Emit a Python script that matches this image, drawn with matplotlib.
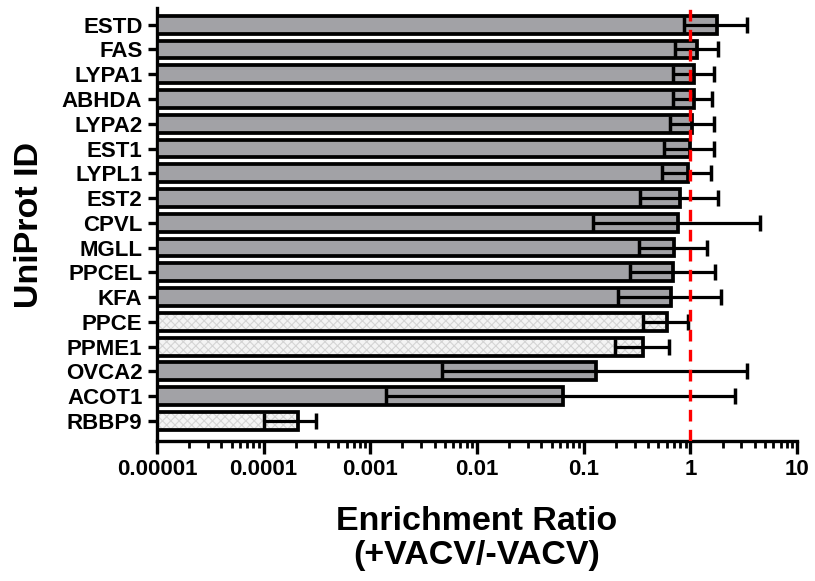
import matplotlib
matplotlib.use('Agg')
import matplotlib.pyplot as plt
import numpy as np
from matplotlib.ticker import LogLocator, FixedLocator, NullFormatter

proteins = ['ESTD', 'FAS', 'LYPA1', 'ABHDA', 'LYPA2', 'EST1', 'LYPL1', 'EST2', 'CPVL',
            'MGLL', 'PPCEL', 'KFA', 'PPCE', 'PPME1', 'OVCA2', 'ACOT1', 'RBBP9']
ratio = [1.79, 1.16, 1.09, 1.08, 1.04, 0.995, 0.94, 0.80, 0.77,
         0.70, 0.69, 0.66, 0.60, 0.36, 0.13, 0.064, 0.00021]
err_low = [0.88, 0.71, 0.68, 0.68, 0.65, 0.57, 0.54, 0.34, 0.123,
           0.33, 0.27, 0.21, 0.36, 0.195, 0.0047, 0.0014, 0.0001]
err_high = [3.43, 1.82, 1.66, 1.60, 1.66, 1.66, 1.55, 1.82, 4.45,
            1.44, 1.69, 1.93, 0.95, 0.63, 3.39, 2.64, 0.00031]
patterned = ['PPCE', 'PPME1', 'RBBP9']
x_ticks = [1e-5, 1e-4, 1e-3, 1e-2, 1e-1, 1, 10]
x_ticklabels = ['0.00001', '0.0001', '0.001', '0.01', '0.1', '1', '10']

plt.rcParams['font.family'] = ['Liberation Sans', 'DejaVu Sans']
plt.rcParams['font.weight'] = 'bold'
plt.rcParams['hatch.linewidth'] = 0.8

fig = plt.figure(figsize=(8.15, 5.81), dpi=100)
ax = fig.add_axes([0.1926, 0.241, 0.978 - 0.1926, 0.986 - 0.241])
ax.set_xscale('log')

base = 1e-5
ratio = np.array(ratio)
y = np.arange(len(proteins))
fills = ['none' if p in patterned else '#a2a2a6' for p in proteins]

# checkered fill for the three patterned bars, outline drawn on top
for i, p in enumerate(proteins):
    if p in patterned:
        ax.barh(y[i], ratio[i] - base, left=base, height=0.72, color='#f4f4f4',
                edgecolor='#d4d4d4', hatch='xxxx', linewidth=0, zorder=2)
ax.barh(y, ratio - base, left=base, height=0.72, color=fills,
        edgecolor='black', linewidth=2.7, zorder=3)

xerr = [ratio - np.array(err_low), np.array(err_high) - ratio]
ax.errorbar(ratio, y, xerr=xerr, fmt='none', ecolor='black', elinewidth=2.3,
            capsize=5.5, capthick=2.5, zorder=4)

ax.axvline(1, color='#ff0000', linewidth=2.4, linestyle=(0, (3.5, 2.5)), zorder=5)

ax.set_xlim(1e-5, 10)
ax.set_ylim(len(proteins) - 0.19, -0.67)
ax.set_yticks(y)
ax.set_yticklabels(proteins, fontsize=16, fontweight='bold')
ax.xaxis.set_major_locator(FixedLocator(x_ticks))
ax.set_xticklabels(x_ticklabels, fontsize=16, fontweight='bold')
ax.xaxis.set_minor_locator(LogLocator(base=10, subs=np.arange(2, 10)))
ax.xaxis.set_minor_formatter(NullFormatter())

for s in ['top', 'right']:
    ax.spines[s].set_visible(False)
for s in ['left', 'bottom']:
    ax.spines[s].set_linewidth(2.4)

ax.tick_params(axis='x', which='major', length=9, width=2.4, pad=4)
ax.tick_params(axis='x', which='minor', length=5, width=2.0)
ax.tick_params(axis='y', which='major', length=6.5, width=2.4, pad=4)

ax.set_xlabel('Enrichment Ratio\n(+VACV/-VACV)', fontsize=24.5, fontweight='bold',
              linespacing=1.1, labelpad=19)
ax.set_ylabel('UniProt ID', fontsize=24.5, fontweight='bold', labelpad=12)

fig.savefig('out.png', dpi=100)
